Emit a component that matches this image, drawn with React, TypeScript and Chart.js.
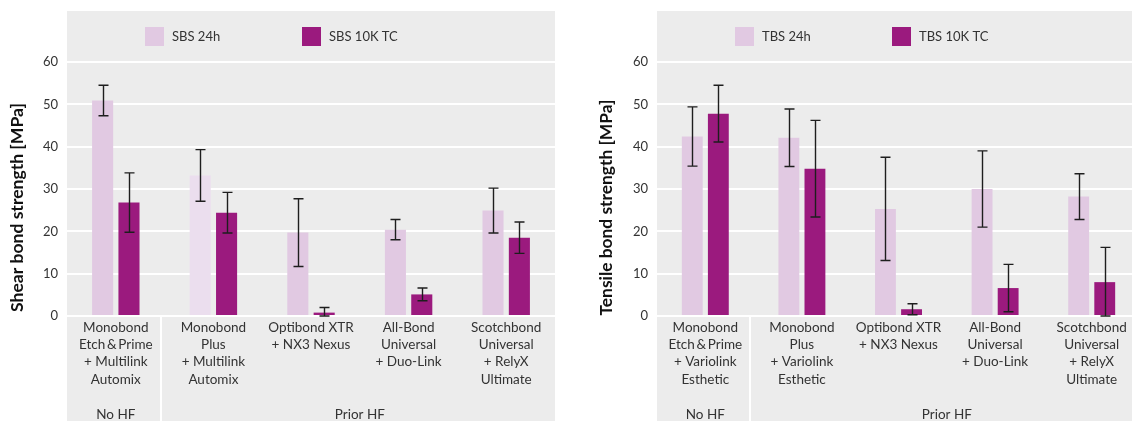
import React, { useEffect, useRef } from "react";
import { Chart, registerables } from "chart.js";

Chart.register(...registerables);

// ---------- data ----------
const sbsCategories = [
  ["Monobond", "Etch\u2009&\u2009Prime", "+ Multilink", "Automix"],
  ["Monobond", "Plus", "+ Multilink", "Automix"],
  ["Optibond XTR", "+ NX3 Nexus"],
  ["All-Bond", "Universal", "+ Duo-Link"],
  ["Scotchbond", "Universal", "+ RelyX", "Ultimate"],
];
const tbsCategories = [
  ["Monobond", "Etch\u2009&\u2009Prime", "+ Variolink", "Esthetic"],
  ["Monobond", "Plus", "+ Variolink", "Esthetic"],
  ["Optibond XTR", "+ NX3 Nexus"],
  ["All-Bond", "Universal", "+ Duo-Link"],
  ["Scotchbond", "Universal", "+ RelyX", "Ultimate"],
];
const groupLabels = ["No HF", "Prior HF"];
const groupSizes = [1, 4];

const yMin = 0;
const yMax = 60;
const yStep = 10;

const sbsLabels = ["SBS 24h", "SBS 10K TC"];
const sbs24h = [50.9, 33.2, 19.7, 20.4, 24.9];
const sbs24hErr = [3.6, 6.1, 8.0, 2.4, 5.3];
const sbs10k = [26.8, 24.4, 0.8, 5.1, 18.5];
const sbs10kErr = [7.0, 4.8, 1.2, 1.5, 3.7];

const tbsLabels = ["TBS 24h", "TBS 10K TC"];
const tbs24h = [42.4, 42.1, 25.3, 30.0, 28.2];
const tbs24hErr = [7.0, 6.8, 12.2, 9.0, 5.4];
const tbs10k = [47.8, 34.8, 1.6, 6.6, 8.0];
const tbs10kErr = [6.7, 11.4, 1.3, 5.6, 8.2];

// ---------- style ----------
const FONT = "Lato, 'Open Sans', sans-serif";
const LIGHT = "#e1c9e2";
const LIGHTER = "#ebdeee";
const DARK = "#9b1a7e";
const PANEL = "#ececec";
const TEXT = "#333333";
const CANVAS_H = 421;

const panelPlugin = {
  id: "panel",
  beforeDraw(chart: any) {
    const { ctx, chartArea: ca, height } = chart;
    const xs = chart.scales.x;
    ctx.save();
    ctx.fillStyle = PANEL;
    ctx.fillRect(ca.left, 11, ca.right - ca.left, height - 11);
    let idx = 0;
    for (let g = 0; g < groupSizes.length - 1; g++) {
      idx += groupSizes[g];
      const px = (xs.getPixelForValue(idx - 1) + xs.getPixelForValue(idx)) / 2 - 4;
      ctx.fillStyle = "#ffffff";
      ctx.fillRect(Math.round(px) - 1, ca.bottom, 2, height - ca.bottom);
    }
    ctx.restore();
  },
  afterDatasetsDraw(chart: any) {
    const { ctx } = chart;
    const ys = chart.scales.y;
    ctx.save();
    ctx.strokeStyle = "#1e1e1e";
    ctx.lineWidth = 1.4;
    chart.data.datasets.forEach((ds: any, di: number) => {
      const meta = chart.getDatasetMeta(di);
      meta.data.forEach((bar: any, i: number) => {
        const v = ds.data[i];
        const e = ds.errors[i];
        const lo = Math.max(yMin, v - e);
        const hi = v + e;
        const x = Math.round(bar.x) + 0.5;
        const yTop = ys.getPixelForValue(hi);
        const yBot = ys.getPixelForValue(lo);
        ctx.beginPath();
        ctx.moveTo(x, yTop);
        ctx.lineTo(x, yBot);
        ctx.moveTo(x - 5, yTop);
        ctx.lineTo(x + 5, yTop);
        ctx.moveTo(x - 5, yBot);
        ctx.lineTo(x + 5, yBot);
        ctx.stroke();
      });
    });
    ctx.restore();
  },
  afterDraw(chart: any, _a: any, opts: any) {
    const { ctx, chartArea: ca } = chart;
    const xs = chart.scales.x;
    ctx.save();
    // group labels
    ctx.fillStyle = TEXT;
    ctx.font = `13.5px ${FONT}`;
    ctx.textAlign = "center";
    ctx.textBaseline = "alphabetic";
    let start = 0;
    groupLabels.forEach((lab, g) => {
      const end = start + groupSizes[g] - 1;
      const cx = (xs.getPixelForValue(start) + xs.getPixelForValue(end)) / 2;
      ctx.fillText(lab, cx, 418.5);
      start += groupSizes[g];
    });
    // legend
    const ds = chart.data.datasets;
    const boxX = [ca.left + 78, ca.left + 235];
    ctx.textAlign = "left";
    ctx.textBaseline = "middle";
    ctx.font = `13px ${FONT}`;
    ds.forEach((d: any, i: number) => {
      ctx.fillStyle = i === 0 ? LIGHT : DARK;
      ctx.fillRect(boxX[i], 27, 19, 19);
      ctx.fillStyle = TEXT;
      ctx.fillText(d.label, boxX[i] + 27, 37);
    });
    // y title, sized to span the reference length
    ctx.font = `bold 16px ${FONT}`;
    const w = ctx.measureText(opts.title).width;
    const size = Math.min(18, Math.max(14, (16 * opts.titleLen) / w));
    ctx.translate(opts.titleX, 207.5);
    ctx.rotate(-Math.PI / 2);
    ctx.font = `bold ${size.toFixed(2)}px ${FONT}`;
    ctx.fillStyle = "#111111";
    ctx.textAlign = "center";
    ctx.textBaseline = "middle";
    ctx.fillText(opts.title, 0, 0);
    ctx.restore();
  },
};

type Props = {
  categories: string[][];
  labels: string[];
  v1: number[];
  e1: number[];
  v2: number[];
  e2: number[];
  lightColors: string[];
  title: string;
  titleX: number;
  titleLen: number;
  width: number;
  yAxisWidth: number;
  padRight: number;
  left: number;
};

function BondChart(p: Props) {
  const ref = useRef<HTMLCanvasElement>(null);
  useEffect(() => {
    if (!ref.current) return;
    const chart = new Chart(ref.current, {
      type: "bar",
      data: {
        labels: p.categories,
        datasets: [
          {
            label: p.labels[0],
            data: p.v1,
            errors: p.e1,
            backgroundColor: p.lightColors,
            categoryPercentage: 0.54,
            barPercentage: 0.8,
          } as any,
          {
            label: p.labels[1],
            data: p.v2,
            errors: p.e2,
            backgroundColor: DARK,
            categoryPercentage: 0.54,
            barPercentage: 0.8,
          } as any,
        ],
      },
      options: {
        responsive: false,
        animation: false,
        devicePixelRatio: 1,
        layout: { padding: { top: 62, right: p.padRight, left: 0, bottom: 0 } },
        plugins: {
          legend: { display: false },
          tooltip: { enabled: false },
          panel: { title: p.title, titleX: p.titleX, titleLen: p.titleLen },
        } as any,
        scales: {
          x: {
            grid: { display: false, drawTicks: false },
            border: { display: false },
            ticks: {
              color: TEXT,
              padding: 3,
              maxRotation: 0,
              autoSkip: false,
              font: { family: FONT, size: 13.5, lineHeight: "17.2px" },
            },
            afterFit: (s: any) => {
              s.height = CANVAS_H - 316;
            },
          },
          y: {
            min: yMin,
            max: yMax,
            grid: { color: "#ffffff", lineWidth: 2, drawTicks: false },
            border: { display: false },
            ticks: {
              stepSize: yStep,
              color: TEXT,
              padding: 9,
              font: { family: FONT, size: 13 },
            },
            afterFit: (s: any) => {
              s.width = p.yAxisWidth;
            },
          },
        },
      } as any,
      plugins: [panelPlugin],
    });
    return () => chart.destroy();
  }, []);
  return (
    <canvas
      ref={ref}
      width={p.width}
      height={CANVAS_H}
      style={{ position: "absolute", left: p.left, top: 0, width: p.width, height: CANVAS_H }}
    />
  );
}

export default function App() {
  return (
    <div
      style={{
        position: "absolute",
        left: 0,
        top: 0,
        width: 1132,
        height: CANVAS_H,
        overflow: "hidden",
        background: "#ffffff",
      }}
    >
      <BondChart
        categories={sbsCategories}
        labels={sbsLabels}
        v1={sbs24h}
        e1={sbs24hErr}
        v2={sbs10k}
        e2={sbs10kErr}
        lightColors={[LIGHT, LIGHTER, LIGHT, LIGHT, LIGHT]}
        title="Shear bond strength [MPa]"
        titleX={17.5}
        titleLen={209}
        width={560}
        yAxisWidth={67}
        padRight={5}
        left={0}
      />
      <BondChart
        categories={tbsCategories}
        labels={tbsLabels}
        v1={tbs24h}
        e1={tbs24hErr}
        v2={tbs10k}
        e2={tbs10kErr}
        lightColors={[LIGHT, LIGHT, LIGHT, LIGHT, LIGHT]}
        title="Tensile bond strength [MPa]"
        titleX={36.5}
        titleLen={216}
        width={580}
        yAxisWidth={87}
        padRight={10}
        left={570}
      />
    </div>
  );
}
